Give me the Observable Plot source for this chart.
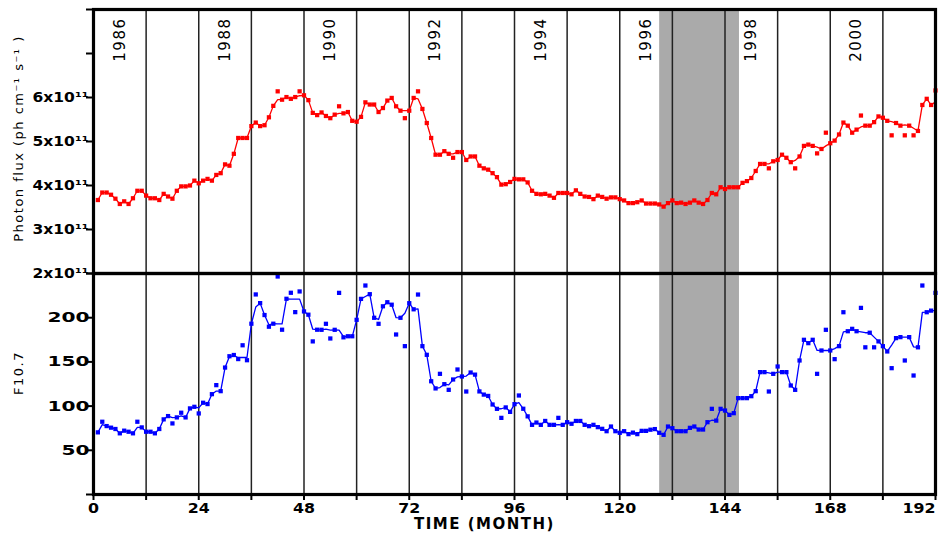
<!DOCTYPE html>
<html>
<head>
<meta charset="utf-8">
<script src="https://cdn.jsdelivr.net/npm/d3@7"></script>
<script src="https://cdn.jsdelivr.net/npm/@observablehq/plot@0.6"></script>
<style>
  body { margin: 0; background: #fff; }
  #chart { position: relative; width: 938px; height: 534px; }
  #chart svg { position: absolute; left: 0; overflow: visible; background: transparent; }
</style>
</head>
<body>
<div id="chart"></div>
<script>
// Monthly photon flux (units of 1e11 ph cm^-1 s^-1), months 1..192 from Jan 1986
const photonFlux = [
  3.67, 3.84, 3.84, 3.79, 3.70, 3.58, 3.64, 3.58, 3.71, 3.88,
  3.88, 3.77, 3.71, 3.71, 3.67, 3.81, 3.75, 3.70, 3.88, 3.98,
  3.98, 4.00, 4.11, 4.05, 4.11, 4.15, 4.11, 4.24, 4.28, 4.48,
  4.45, 4.72, 5.08, 5.08, 5.08, 5.35, 5.43, 5.35, 5.37, 5.55,
  5.81, 6.14, 5.95, 6.01, 5.97, 6.01, 6.14, 6.05, 5.94, 5.65,
  5.60, 5.66, 5.58, 5.53, 5.61, 5.80, 5.64, 5.67, 5.47, 5.45,
  5.56, 5.89, 5.84, 5.84, 5.67, 5.76, 5.93, 5.99, 5.80, 5.70,
  5.53, 5.70, 5.99, 6.14, 5.74, 5.42, 5.08, 4.70, 4.70, 4.78,
  4.72, 4.63, 4.76, 4.76, 4.58, 4.66, 4.66, 4.45, 4.39, 4.36,
  4.28, 4.19, 4.02, 4.03, 4.08, 4.15, 4.14, 4.14, 4.07, 3.88,
  3.81, 3.80, 3.81, 3.77, 3.72, 3.83, 3.83, 3.83, 3.80, 3.89,
  3.81, 3.75, 3.74, 3.69, 3.77, 3.74, 3.70, 3.73, 3.73, 3.69,
  3.66, 3.60, 3.60, 3.62, 3.66, 3.59, 3.59, 3.59, 3.57, 3.52,
  3.60, 3.66, 3.60, 3.61, 3.58, 3.61, 3.66, 3.61, 3.58, 3.67,
  3.83, 3.80, 3.96, 3.92, 3.96, 3.96, 3.96, 4.06, 4.10, 4.17,
  4.33, 4.49, 4.49, 4.39, 4.55, 4.58, 4.70, 4.63, 4.53, 4.39,
  4.66, 4.90, 4.93, 4.90, 4.73, 4.83, 5.20, 4.96, 5.02, 5.16,
  5.43, 5.36, 5.20, 5.27, 5.59, 5.36, 5.36, 5.44, 5.57, 5.54,
  5.47, 5.14, 5.42, 5.36, 5.14, 5.36, 5.14, 5.24, 5.83, 5.97, 5.83, 6.16
];
// Smoothed photon flux curve
const photonFluxSmooth = [
  3.67, 3.84, 3.84, 3.79, 3.70, 3.58, 3.64, 3.58, 3.71, 3.88,
  3.88, 3.77, 3.71, 3.71, 3.67, 3.81, 3.75, 3.70, 3.88, 3.98,
  3.98, 4.00, 4.11, 4.05, 4.11, 4.15, 4.11, 4.24, 4.28, 4.48,
  4.45, 4.72, 5.08, 5.08, 5.08, 5.35, 5.43, 5.35, 5.37, 5.55,
  5.81, 5.95, 5.95, 6.01, 5.97, 6.01, 6.04, 6.05, 5.94, 5.65,
  5.60, 5.66, 5.58, 5.53, 5.61, 5.64, 5.64, 5.67, 5.47, 5.45,
  5.56, 5.89, 5.84, 5.84, 5.67, 5.76, 5.93, 5.99, 5.80, 5.70,
  5.70, 5.70, 5.99, 5.97, 5.74, 5.42, 5.08, 4.70, 4.70, 4.78,
  4.72, 4.72, 4.76, 4.76, 4.58, 4.66, 4.66, 4.45, 4.39, 4.36,
  4.28, 4.19, 4.02, 4.03, 4.08, 4.15, 4.14, 4.14, 4.07, 3.88,
  3.81, 3.80, 3.81, 3.77, 3.72, 3.83, 3.83, 3.83, 3.80, 3.89,
  3.81, 3.75, 3.74, 3.69, 3.77, 3.74, 3.70, 3.73, 3.73, 3.69,
  3.66, 3.60, 3.60, 3.62, 3.66, 3.59, 3.59, 3.59, 3.57, 3.52,
  3.60, 3.66, 3.60, 3.61, 3.58, 3.61, 3.66, 3.61, 3.58, 3.67,
  3.83, 3.80, 3.96, 3.92, 3.96, 3.96, 3.96, 4.06, 4.10, 4.17,
  4.33, 4.49, 4.49, 4.49, 4.55, 4.58, 4.70, 4.63, 4.53, 4.57,
  4.66, 4.90, 4.93, 4.90, 4.87, 4.83, 4.90, 4.96, 5.02, 5.16,
  5.43, 5.36, 5.20, 5.27, 5.33, 5.36, 5.36, 5.44, 5.57, 5.54,
  5.47, 5.45, 5.42, 5.36, 5.38, 5.36, 5.30, 5.24, 5.83, 5.97, 5.83, 5.90
];
// Monthly F10.7 solar radio flux
const f107 = [
  70.3, 82.3, 77.4, 75.6, 74.1, 69.2, 72.2, 71.0, 69.2, 82.3,
  75.9, 71.0, 71.0, 69.2, 74.1, 85.0, 88.7, 80.4, 87.2, 92.5,
  87.2, 97.4, 99.2, 91.7, 103.8, 102.3, 113.5, 123.7, 116.9, 143.6,
  156.4, 157.8, 153.2, 168.8, 151.9, 193.2, 226.3, 216.5, 203.0, 189.8,
  193.2, 246.6, 186.4, 221.4, 228.2, 206.3, 229.7, 207.1, 203.4, 173.2,
  186.4, 186.3, 193.1, 176.5, 186.3, 228.1, 177.8, 179.0, 179.0, 197.6,
  221.3, 236.4, 226.6, 199.9, 193.1, 212.9, 217.5, 214.7, 181.0, 199.9,
  167.8, 216.4, 209.5, 226.2, 167.8, 158.0, 128.1, 120.0, 136.5, 124.8,
  118.4, 130.1, 141.4, 133.5, 116.5, 138.0, 135.6, 116.6, 113.0, 111.5,
  101.8, 96.9, 86.7, 98.5, 93.5, 102.2, 112.0, 97.0, 88.4, 78.8,
  81.4, 78.8, 83.2, 78.8, 78.8, 86.7, 78.8, 81.8, 80.0, 83.2,
  83.2, 78.8, 77.3, 78.8, 76.2, 74.3, 71.6, 76.9, 71.6, 69.8,
  71.6, 68.3, 70.0, 68.3, 72.0, 72.0, 73.3, 74.0, 69.8, 67.5,
  76.9, 75.0, 71.6, 71.6, 71.6, 75.4, 76.9, 73.5, 73.5, 81.8,
  96.9, 83.6, 96.9, 95.0, 90.1, 92.0, 109.0, 109.0, 109.0, 111.2,
  116.9, 138.4, 138.4, 116.5, 136.5, 144.8, 138.4, 138.4, 123.3, 118.4,
  151.6, 175.0, 171.2, 175.0, 136.5, 162.9, 186.3, 162.9, 153.1, 167.8,
  206.2, 184.7, 187.4, 184.7, 211.1, 166.5, 183.0, 166.5, 173.2, 167.8,
  161.8, 142.9, 176.9, 178.0, 151.6, 178.0, 134.6, 166.5, 236.4, 206.2, 208.0, 228.1
];
// Smoothed F10.7 curve
const f107Smooth = [
  70.3, 79.0, 77.4, 75.6, 74.1, 69.2, 72.2, 71.0, 69.2, 76.0,
  75.9, 71.0, 71.0, 69.2, 74.1, 85.0, 88.7, 87.0, 87.2, 89.0,
  87.2, 97.4, 99.2, 98.0, 103.8, 102.3, 113.5, 117.0, 116.9, 143.6,
  156.0, 157.0, 155.0, 155.0, 155.0, 193.2, 212.0, 216.5, 203.0, 192.0,
  193.2, 193.0, 193.0, 221.4, 221.0, 221.0, 221.0, 207.1, 203.4, 187.0,
  186.4, 186.3, 187.0, 186.0, 186.3, 186.0, 178.5, 178.5, 178.5, 197.6,
  221.3, 224.0, 226.6, 199.9, 198.0, 212.9, 217.5, 214.7, 200.0, 199.9,
  205.0, 216.4, 209.5, 210.0, 167.8, 158.0, 128.1, 120.0, 121.0, 124.8,
  124.0, 130.1, 133.0, 133.5, 134.0, 138.0, 135.6, 116.6, 113.0, 111.5,
  101.8, 96.9, 97.0, 98.5, 93.5, 102.2, 104.0, 97.0, 88.4, 78.8,
  81.4, 78.8, 83.2, 78.8, 78.8, 79.0, 78.8, 81.8, 80.0, 83.2,
  83.2, 78.8, 77.3, 78.8, 76.2, 74.3, 71.6, 76.9, 71.6, 69.8,
  71.6, 68.3, 70.0, 68.3, 72.0, 72.0, 73.3, 74.0, 69.8, 67.5,
  76.9, 75.0, 71.6, 71.6, 71.6, 75.4, 76.9, 73.5, 73.5, 81.8,
  84.0, 83.6, 96.9, 95.0, 90.1, 92.0, 109.0, 109.0, 109.0, 111.2,
  116.9, 138.4, 138.4, 137.5, 136.5, 138.4, 138.4, 138.4, 123.3, 118.4,
  151.6, 175.0, 171.2, 175.0, 163.0, 162.9, 163.0, 162.9, 165.0, 167.8,
  184.0, 184.7, 187.4, 184.7, 184.0, 183.0, 183.0, 178.0, 173.2, 167.8,
  161.8, 169.0, 176.9, 178.0, 178.0, 178.0, 167.0, 166.5, 206.0, 206.2, 208.0, 208.0
];

const months = d3.range(1, 193);
const xTicks = [0, 12, 24, 36, 48, 60, 72, 84, 96, 108, 120, 132, 144, 156, 168, 180, 192];
const xTickLabels = [0, 24, 48, 72, 96, 120, 144, 168, 192];
const gridMonths = [12, 24, 36, 48, 60, 72, 84, 96, 108, 120, 132, 144, 156, 168, 180];
const yearLabels = ["1986", "1988", "1990", "1992", "1994", "1996", "1998", "2000"];
const yearMonths = [6, 30, 54, 78, 102, 126, 150, 174];
const fluxTicks = [2, 3, 4, 5, 6, 7, 8];
const fluxTickLabels = [2, 3, 4, 5, 6];
const f107Ticks = [0, 50, 100, 150, 200, 250];
const f107TickLabels = [50, 100, 150, 200];
const shaded = [{start: 129.1, end: 147.3}];

const fluxRows = months.map((m, i) => ({month: m, value: photonFlux[i], smooth: photonFluxSmooth[i]}));
const f107Rows = months.map((m, i) => ({month: m, value: f107[i], smooth: f107Smooth[i]}));

const FONT = "DejaVu Sans, sans-serif";

function background() {
  return [
    Plot.rect(shaded, {x1: "start", x2: "end", fill: "#aaaaaa"}),
    Plot.ruleX(gridMonths, {stroke: "#222", strokeWidth: 1.5})
  ];
}

const topPlot = Plot.plot({
  width: 938, height: 276,
  marginLeft: 93, marginRight: 3, marginTop: 9, marginBottom: 3,
  style: {fontFamily: FONT, background: "transparent"},
  x: {domain: [0, 192], axis: null},
  y: {domain: [2, 8], axis: null},
  marks: [
    ...background(),
    Plot.line(fluxRows, {x: "month", y: "smooth", stroke: "#ff0000", strokeWidth: 1.3}),
    Plot.dot(fluxRows, {x: "month", y: "value", symbol: "square", r: 2.4, fill: "#ff0000"}),
    Plot.frame({stroke: "#000", strokeWidth: 3.2}),
    Plot.axisY(fluxTicks, {
      tickSize: 7, tickPadding: -2, strokeWidth: 2,
      tickFormat: d => fluxTickLabels.includes(d) ? `${d}x10¹¹` : "",
      fontSize: 14, fontWeight: "bold", fontFamily: FONT
    }),
    Plot.text(yearLabels, {
      x: (d, i) => yearMonths[i], frameAnchor: "top", dy: 8,
      rotate: -90, textAnchor: "end", lineAnchor: "middle",
      fontSize: 15, fontFamily: FONT, fill: "#000"
    }),
    Plot.text(["Photon flux (ph cm⁻¹ s⁻¹ )"], {
      frameAnchor: "left", dx: -75, dy: -3, rotate: -90,
      textAnchor: "middle", lineAnchor: "middle",
      fontSize: 13, fontFamily: FONT, fill: "#000"
    })
  ]
});

const bottomPlot = Plot.plot({
  width: 938, height: 264,
  marginLeft: 93, marginRight: 3, marginTop: 3, marginBottom: 40,
  style: {fontFamily: FONT, background: "transparent"},
  x: {domain: [0, 192], axis: null},
  y: {domain: [0, 250], axis: null},
  marks: [
    ...background(),
    Plot.line(f107Rows, {x: "month", y: "smooth", stroke: "#0000ff", strokeWidth: 1.3}),
    Plot.dot(f107Rows, {x: "month", y: "value", symbol: "square", r: 2.4, fill: "#0000ff"}),
    Plot.frame({stroke: "#000", strokeWidth: 3.2}),
    Plot.axisY(f107Ticks, {
      tickSize: 7, tickPadding: -3, strokeWidth: 2,
      tickFormat: d => f107TickLabels.includes(d) ? String(d) : "",
      fontSize: 14, fontWeight: "bold", fontFamily: FONT
    }),
    Plot.axisX(xTicks, {
      tickSize: 6, tickPadding: 3, strokeWidth: 2,
      tickFormat: d => xTickLabels.includes(d) ? String(d) : "",
      fontSize: 14, fontWeight: "bold", fontFamily: FONT
    }),
    Plot.text(["F10.7"], {
      frameAnchor: "left", dx: -75, dy: -11, rotate: -90,
      textAnchor: "middle", lineAnchor: "middle",
      fontSize: 13, fontFamily: FONT, fill: "#000"
    }),
    Plot.text(["TIME (MONTH)"], {
      frameAnchor: "bottom", dx: -30, dy: 30,
      textAnchor: "middle", lineAnchor: "middle",
      fontSize: 15, fontWeight: "bold", fontFamily: FONT, fill: "#000"
    })
  ]
});

// Widen the bold tick glyphs to the blocky look of the original lettering
function stretch(svg, label, widthFor) {
  d3.select(svg).selectAll(`g[aria-label="${label}"] text`).each(function () {
    const s = this.textContent;
    if (!s) return;
    this.setAttribute("textLength", widthFor(s));
    this.setAttribute("lengthAdjust", "spacingAndGlyphs");
  });
}
stretch(topPlot, "y-axis tick label", () => 56);
stretch(bottomPlot, "y-axis tick label", s => s.length * 14);
stretch(bottomPlot, "x-axis tick label", s => s.length * 11);
// The last month label sits flush against the right edge of the frame
d3.select(bottomPlot).selectAll('g[aria-label="x-axis tick label"] text')
  .filter(function () { return this.textContent === String(xTickLabels[xTickLabels.length - 1]); })
  .attr("text-anchor", "end");
d3.select(topPlot).selectAll('g[aria-label="text"] text').attr("letter-spacing", "1.5px");
d3.select(bottomPlot).selectAll('g[aria-label="text"] text').attr("letter-spacing", "1.5px");

topPlot.style.top = "0px";
bottomPlot.style.top = "270px";
const chart = document.getElementById("chart");
chart.appendChild(topPlot);
chart.appendChild(bottomPlot);
</script>
</body>
</html>
